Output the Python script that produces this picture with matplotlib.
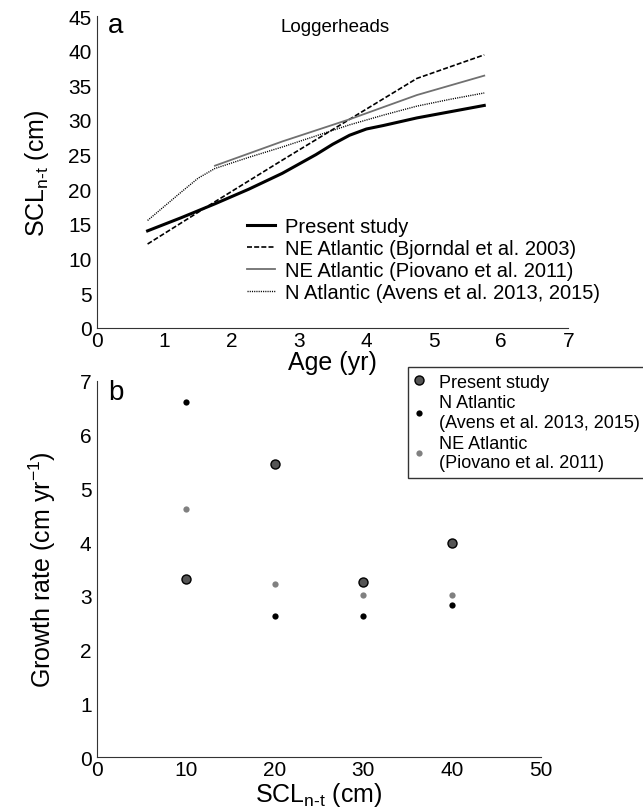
import numpy as np
import matplotlib.pyplot as plt

plt.rcParams['font.family'] = ['Liberation Sans', 'DejaVu Sans']
plt.rcParams['mathtext.default'] = 'regular'

# panel a: SCL at age
age_present = [0.75, 1.25, 1.75, 2.25, 2.75, 3.25, 3.5, 3.75, 4.0, 4.25, 4.75, 5.25, 5.75]
scl_present = [14.0, 15.9, 17.9, 20.0, 22.3, 25.0, 26.5, 27.8, 28.7, 29.2, 30.3, 31.2, 32.1]

age_bjorndal = [0.75, 1.75, 2.75, 3.75, 4.75, 5.75]
scl_bjorndal = [12.1, 18.2, 24.2, 30.1, 36.0, 39.4]

age_piovano = [1.75, 2.75, 3.75, 4.75, 5.75]
scl_piovano = [23.4, 26.9, 30.1, 33.6, 36.4]

age_avens = [0.75, 1.25, 1.5, 1.75, 2.25, 2.75, 3.25, 3.75, 4.25, 4.75, 5.25, 5.75]
scl_avens = [15.5, 19.6, 21.6, 23.0, 24.6, 26.1, 27.7, 29.3, 30.7, 32.0, 33.0, 33.9]

# panel b: growth rate by size class
size_class = [10, 20, 30, 40]
rate_present = [3.32, 5.46, 3.25, 3.99]
rate_avens = [6.6, 2.62, 2.62, 2.83]
rate_piovano = [4.61, 3.23, 3.02, 3.02]

fig = plt.figure(figsize=(6.43, 8.12), dpi=100)

# ---- panel a
ax1 = fig.add_axes([0.151, 0.595, 0.733, 0.384])
ax1.plot(age_present, scl_present, color='black', lw=2.2, label='Present study')
ax1.plot(age_bjorndal, scl_bjorndal, color='black', lw=1.2, dashes=(3, 1.3),
         label='NE Atlantic (Bjorndal et al. 2003)')
ax1.plot(age_piovano, scl_piovano, color='#707070', lw=1.3,
         label='NE Atlantic (Piovano et al. 2011)')
ax1.plot(age_avens, scl_avens, color='black', lw=1.0, dashes=(0.8, 0.8),
         label='N Atlantic (Avens et al. 2013, 2015)')

ax1.set_xlim(0, 7)
ax1.set_ylim(0, 45)
ax1.set_xticks(range(0, 8))
ax1.set_yticks(range(0, 46, 5))
ax1.set_xlabel('Age (yr)', fontsize=18, labelpad=0)
ax1.set_ylabel('SCL$_{n\u2010t}$ (cm)', fontsize=18, labelpad=12)
ax1.text(0.022, 1.012, 'a', transform=ax1.transAxes, fontsize=20, va='top')
ax1.text(0.505, 0.995, 'Loggerheads', transform=ax1.transAxes, fontsize=13.5,
         ha='center', va='top')
ax1.legend(loc='upper left', bbox_to_anchor=(0.30, 0.38), frameon=False,
           fontsize=14.5, handlelength=1.4, handletextpad=0.5, labelspacing=0.15,
           borderaxespad=0)

# ---- panel b
ax2 = fig.add_axes([0.151, 0.066, 0.69, 0.464])
ax2.plot(size_class, rate_present, 'o', ms=6.5, mfc='#555555', mec='black',
         mew=1.0, label='Present study')
ax2.plot(size_class, rate_avens, 'o', ms=4.5, mfc='black', mec='black',
         mew=0, label='N Atlantic\n(Avens et al. 2013, 2015)')
ax2.plot(size_class, rate_piovano, 'o', ms=4.5, mfc='#808080', mec='#808080',
         mew=0, label='NE Atlantic\n(Piovano et al. 2011)')

ax2.set_xlim(0, 50)
ax2.set_ylim(0, 7)
ax2.set_xticks(range(0, 51, 10))
ax2.set_yticks(range(0, 8))
ax2.set_xlabel('SCL$_{n\u2010t}$ (cm)', fontsize=18, labelpad=0.5)
ax2.set_ylabel('Growth rate (cm yr$^{\u22121}$)', fontsize=18, labelpad=16)
ax2.text(0.025, 1.005, 'b', transform=ax2.transAxes, fontsize=20, va='top')
leg = ax2.legend(loc='upper left', bbox_to_anchor=(0.70, 1.035), frameon=True,
                 fancybox=False, edgecolor='black', fontsize=13,
                 handlelength=0.6, handletextpad=0.8, labelspacing=0.2,
                 borderaxespad=0, borderpad=0.35)
leg.get_frame().set_linewidth(1.0)

for ax in (ax1, ax2):
    ax.spines['top'].set_visible(False)
    ax.spines['right'].set_visible(False)
    ax.spines['left'].set_color('#333333')
    ax.spines['bottom'].set_color('#333333')
    ax.tick_params(axis='x', length=0, labelsize=15, pad=2)
    ax.tick_params(axis='y', length=0, labelsize=15, pad=4)

fig.savefig('out.png', dpi=100)
